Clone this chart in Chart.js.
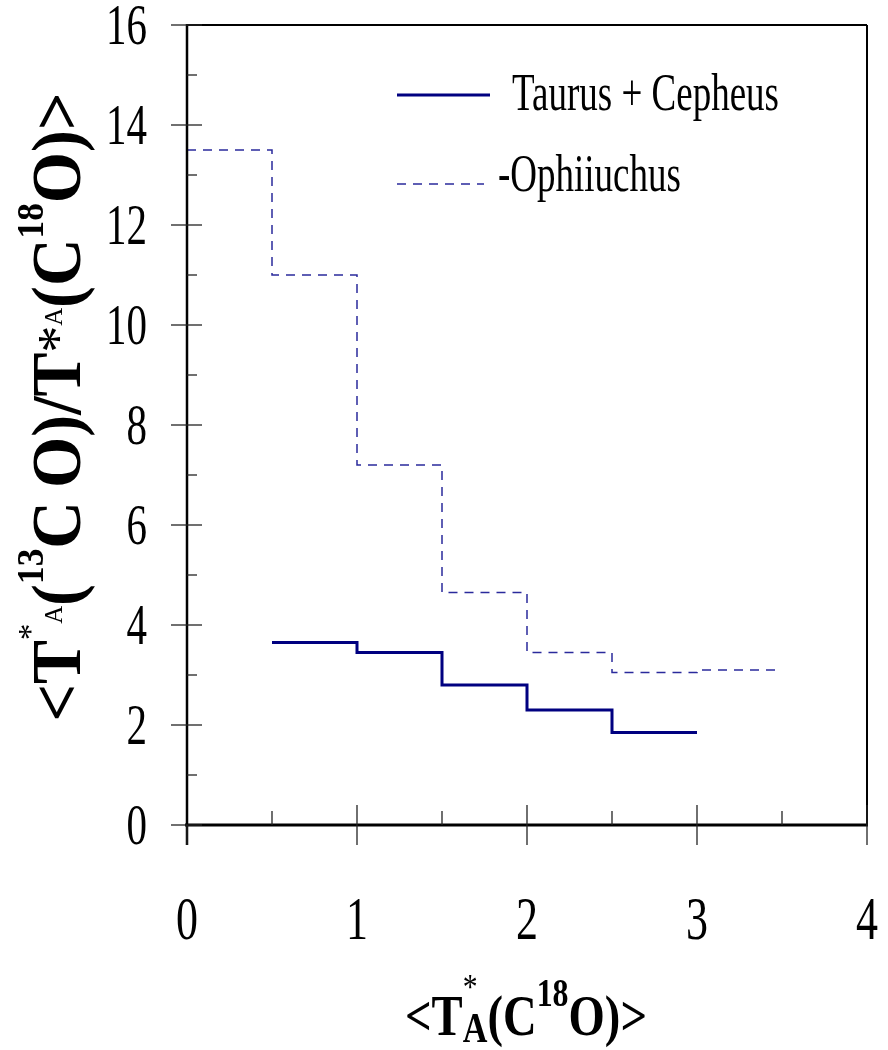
<!DOCTYPE html>
<html>
<head>
<meta charset="utf-8">
<script src="https://cdn.jsdelivr.net/npm/chart.js@4.4.1/dist/chart.umd.min.js"></script>
<style>
  html, body { margin: 0; padding: 0; background: #fff; }
  #wrap { position: relative; width: 888px; height: 1050px; }
</style>
</head>
<body>
<div id="wrap"><canvas id="chart"></canvas></div>
<script>
// bin edges and the value held over each bin
const taurusEdges = [0.5, 1, 1.5, 2, 2.5, 3];
const taurusValues = [3.65, 3.45, 2.8, 2.3, 1.85];
const ophEdges = [0, 0.5, 1, 1.5, 2, 2.5, 3, 3.5];
const ophValues = [13.5, 11.0, 7.2, 4.65, 3.45, 3.05, 3.1];
const xTickValues = [0, 1, 2, 3, 4];
const yTickValues = [0, 2, 4, 6, 8, 10, 12, 14, 16];

const FONT = '"Liberation Serif", "Times New Roman", serif';
const STRETCH = 1.4; // text in the original is drawn tall and narrow

const steps = (edges, vals) => edges.map((x, i) => ({ x, y: vals[Math.min(i, vals.length - 1)] }));

function fontOf(s) {
  return (s.bold ? 'bold ' : '') + s.size + 'px ' + FONT;
}

// draws a run of text pieces (sub/superscripts) with optional rotation and stretch
function drawRich(ctx, segs, x, y, opts) {
  ctx.save();
  const widths = segs.map(s => { ctx.font = fontOf(s); return ctx.measureText(s.t).width; });
  const total = segs.reduce((a, s, i) => a + (s.stack ? 0 : widths[i]), 0);
  const sx = opts.length ? opts.length / total : (opts.sx || 1);
  ctx.translate(x, y);
  ctx.rotate(opts.angle || 0);
  ctx.scale(sx, opts.sy || 1);
  ctx.textAlign = 'left';
  ctx.textBaseline = 'alphabetic';
  ctx.fillStyle = '#000';
  let cx = opts.align === 'left' ? 0 : opts.align === 'right' ? -total : -total / 2;
  segs.forEach((s, i) => {
    ctx.font = fontOf(s);
    ctx.fillText(s.t, cx, s.dy || 0);
    if (!s.stack) cx += widths[i];
  });
  ctx.restore();
}

function line(ctx, x1, y1, x2, y2) {
  ctx.beginPath();
  ctx.moveTo(x1, y1);
  ctx.lineTo(x2, y2);
  ctx.stroke();
}

const framePlugin = {
  id: 'frame',
  afterDraw(chart) {
    const ctx = chart.ctx;
    const { left: L, right: R, top: T, bottom: B } = chart.chartArea;
    const xs = chart.scales.x, ys = chart.scales.y;

    ctx.save();
    ctx.strokeStyle = '#000';
    ctx.lineCap = 'butt';
    // box
    ctx.lineWidth = 2;
    line(ctx, L, T, R, T);
    line(ctx, R, T, R, B);
    ctx.lineWidth = 2.5;
    line(ctx, L, T - 1, L, B + 20);
    ctx.lineWidth = 3;
    line(ctx, L - 2, B, R + 1, B);

    // y ticks: majors cross the axis, minors point in
    ctx.lineWidth = 1.3;
    ctx.strokeStyle = '#222';
    const yPix = yTickValues.map(v => ys.getPixelForValue(v));
    yPix.forEach(py => line(ctx, L - 16, py, L + 15, py));
    for (let i = 0; i < yTickValues.length - 1; i++) {
      const py = ys.getPixelForValue((yTickValues[i] + yTickValues[i + 1]) / 2);
      line(ctx, L, py, L + 10, py);
    }
    // x ticks
    xTickValues.forEach(v => {
      const px = xs.getPixelForValue(v);
      line(ctx, px, v === 0 ? B : B - 20, px, B + 20);
    });
    for (let i = 0; i < xTickValues.length - 1; i++) {
      const px = xs.getPixelForValue((xTickValues[i] + xTickValues[i + 1]) / 2);
      line(ctx, px, B - 14, px, B);
    }
    ctx.restore();

    // tick labels
    yTickValues.forEach(v => {
      const py = ys.getPixelForValue(v);
      drawRich(ctx, [{ t: String(v), size: 41 }], 147, py + 0.676 * 41 * STRETCH / 2, { align: 'right', sy: STRETCH });
    });
    xTickValues.forEach(v => {
      const px = xs.getPixelForValue(v);
      drawRich(ctx, [{ t: String(v), size: 44 }], px, 939, { align: 'center', sy: STRETCH });
    });

    // legend
    const ds = chart.data.datasets;
    ctx.save();
    ctx.strokeStyle = ds[0].borderColor;
    ctx.lineWidth = ds[0].borderWidth;
    line(ctx, 397, 95, 490, 95);
    ctx.strokeStyle = ds[1].borderColor;
    ctx.lineWidth = ds[1].borderWidth;
    ctx.setLineDash(ds[1].borderDash);
    line(ctx, 397, 184, 484, 184);
    ctx.restore();
    drawRich(ctx, [{ t: ds[0].label, size: 37 }], 512, 110, { align: 'left', sy: STRETCH });
    drawRich(ctx, [{ t: ds[1].label, size: 37 }], 498, 191, { align: 'left', sy: STRETCH });

    // x axis title  <T*A(C18O)>
    drawRich(ctx, [
      { t: '<T', size: 41, bold: true },
      { t: '*', size: 26, dy: -26, stack: true },
      { t: 'A', size: 30, bold: true, dy: 5 },
      { t: '(C', size: 41, bold: true },
      { t: '18', size: 28, bold: true, dy: -21 },
      { t: 'O)>', size: 41, bold: true }
    ], 526, 1035, { length: 242, sy: STRETCH });

    // y axis title  <T*A(13CO)/T*A(C18O)>
    drawRich(ctx, [
      { t: '<T', size: 69, bold: true },
      { t: '*', size: 34, dy: -39 },
      { t: 'A', size: 26, dy: -18 },
      { t: '(', size: 69, bold: true },
      { t: '13', size: 37, bold: true, dy: -37 },
      { t: 'C\u2009O)/T', size: 69, bold: true },
      { t: '*', size: 56, dy: -3 },
      { t: 'A', size: 26, dy: -18 },
      { t: '(C', size: 69, bold: true },
      { t: '18', size: 37, bold: true, dy: -37 },
      { t: 'O)>', size: 69, bold: true }
    ], 80, 407, { angle: -Math.PI / 2, length: 629, sy: 1 });
  }
};

new Chart(document.getElementById('chart'), {
  type: 'line',
  data: {
    datasets: [
      {
        label: 'Taurus + Cepheus',
        data: steps(taurusEdges, taurusValues),
        borderColor: '#000080', borderWidth: 3,
        stepped: true, pointRadius: 0, fill: false
      },
      {
        label: '-Ophiiuchus',
        data: steps(ophEdges, ophValues),
        borderColor: '#2a2a9c', borderWidth: 1.5, borderDash: [9, 7],
        stepped: true, pointRadius: 0, fill: false
      }
    ]
  },
  options: {
    responsive: true, maintainAspectRatio: false, animation: false,
    layout: { padding: { top: 25, right: 21, left: 0, bottom: 0 } },
    plugins: { legend: { display: false }, tooltip: { enabled: false } },
    scales: {
      x: {
        type: 'linear', min: 0, max: 4,
        afterBuildTicks: s => { s.ticks = xTickValues.map(v => ({ value: v })); },
        ticks: { display: false },
        grid: { display: false, drawTicks: false }, border: { display: false },
        afterFit: s => { s.height = 225; }
      },
      y: {
        type: 'linear', min: 0, max: 16,
        afterBuildTicks: s => { s.ticks = yTickValues.map(v => ({ value: v })); },
        ticks: { display: false },
        grid: { display: false, drawTicks: false }, border: { display: false },
        afterFit: s => { s.width = 187; }
      }
    }
  },
  plugins: [framePlugin]
});
</script>
</body>
</html>
